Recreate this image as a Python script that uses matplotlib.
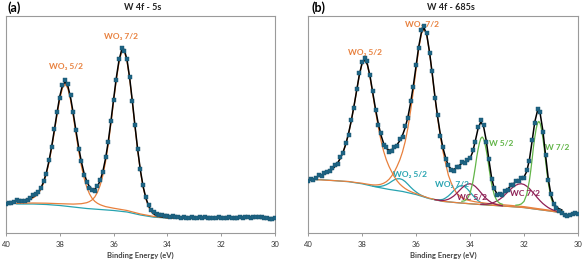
import numpy as np
import matplotlib
matplotlib.use("Agg")
import matplotlib.pyplot as plt

plt.rcParams['font.family'] = ['Lato', 'DejaVu Sans']


def span(a, b, step=0.1):
    # energy grid running from a down to b
    return list(np.round(np.arange(a, b - step / 2, -step), 2))


# ---------------- (a) W 4f - 5s ----------------
e_a = span(40.0, 30.0)
counts_a = [
    29.5, 30.3, 29.7, 31.0, 33.5, 32.5, 32.3, 31.8, 33.5, 35.5,
    38.0, 39.5, 41.5, 45.0, 52.5, 59.0, 73.5, 86.0, 104.0, 121.5,
    135.0, 148.0, 153.5, 149.5, 138.0, 121.0, 103.5, 84.0, 72.0, 58.0,
    51.0, 45.0, 43.0, 42.5, 47.0, 53.0, 61.0, 76.0, 91.0, 112.0,
    133.0, 153.0, 174.0, 185.0, 182.0, 174.5, 156.0, 132.0, 108.0, 84.0,
    64.0, 48.0, 36.0, 28.5, 23.0, 21.0, 19.0, 18.5, 18.0, 17.0,
    17.5, 16.5, 17.5, 16.0, 16.5, 15.5, 16.0, 15.0, 15.5, 16.0,
    15.0, 15.5, 16.0, 15.0, 16.5, 15.5, 15.0, 15.5, 15.0, 16.0,
    15.5, 15.0, 15.5, 16.0, 15.0, 15.5, 15.5, 16.0, 15.0, 16.5,
    16.0, 15.5, 16.5, 16.0, 16.0, 16.5, 15.5, 15.0, 14.0, 14.5,
    15.5]

fit_a_e = span(39.3, 35.7) + [35.65] + span(35.6, 34.0) + [33.5, 33.0, 32.0, 31.0, 30.2]
fit_a = [
    33.1, 33.9, 34.8, 36.0, 37.8, 40.6, 45.0, 51.5, 60.4, 72.3,
    87.0, 103.6, 120.9, 136.8, 147.8, 151.1, 146.9, 135.5, 119.8, 102.5,
    85.9, 71.6, 60.0, 51.8, 46.4, 43.7, 43.8, 46.7, 52.4, 61.5,
    74.4, 91.2, 111.7, 133.8, 155.1, 172.5, 183.2,
    184.6,
    183.1, 173.0, 154.6, 131.1, 106.1, 82.4, 62.1, 46.3, 35.0, 27.3,
    22.2, 19.2, 17.5, 16.6, 16.1, 15.8, 15.5,
    15.4, 15.3, 15.2, 15.1, 15.1]

wo3_52_a_e = [39.6, 39.4, 39.2, 39.1] + span(39.0, 36.3) + [36.0, 35.5, 35.0, 34.5, 34.0, 32.0, 30.2]
wo3_52_a = [
    31.3, 31.9, 33.0, 33.8,
    35.0, 36.7, 39.4, 43.7, 50.1, 58.9, 70.6, 85.0, 101.5, 118.6,
    134.1, 145.1, 148.9, 144.5, 132.9, 116.9, 99.3, 82.3, 67.4, 55.2,
    46.0, 39.3, 34.7, 31.7, 29.7, 28.3, 27.3, 26.4,
    24.8, 22.5, 19.0, 16.5, 15.4, 15.2, 15.1]

wo3_72_a_e = [39.6, 39.0, 38.5, 38.0, 37.5, 37.2] + span(37.0, 35.7) + [35.65] + span(35.6, 34.3) + [34.0, 32.0, 30.2]
wo3_72_a = [
    29.6, 30.0, 29.8, 29.3, 28.9, 29.3,
    30.3, 31.4, 33.1, 36.0, 40.7, 47.6, 57.5, 71.1, 88.3, 109.1,
    131.5, 153.0, 170.5, 181.5,
    183.0,
    181.5, 171.5, 153.3, 129.9, 105.0, 81.4, 61.1, 45.4, 34.1, 26.4,
    21.4, 18.4, 16.8, 15.9,
    15.1, 15.0, 15.0]

bg_a_e = [39.6, 39.0, 38.5, 38.0, 37.5, 37.0, 36.5, 36.0, 35.5, 35.0, 34.5, 34.0, 30.2]
bg_a = [29.0, 29.0, 28.5, 27.5, 26.0, 24.5, 23.5, 22.5, 21.0, 18.0, 15.8, 15.0, 15.0]

# ---------------- (b) W 4f - 685s ----------------
e_b = span(40.0, 30.0)
counts_b = [
    51.0, 52.5, 51.5, 54.0, 56.5, 55.5, 58.0, 59.5, 60.5, 63.5,
    66.0, 67.5, 74.5, 78.0, 88.0, 95.5, 110.5, 122.0, 140.0, 155.5,
    167.0, 171.0, 168.0, 154.0, 138.5, 120.0, 105.5, 97.0, 86.0, 83.5,
    79.0, 80.0, 84.0, 85.0, 91.5, 94.0, 104.0, 112.0, 128.5, 142.0,
    164.0, 180.0, 197.5, 202.0, 195.0, 175.0, 157.5, 132.0, 115.0, 95.0,
    84.0, 72.0, 66.5, 61.0, 60.5, 64.5, 64.5, 69.0, 68.0, 71.5,
    73.5, 80.5, 89.0, 103.5, 110.0, 105.5, 89.0, 72.5, 52.5, 44.0,
    37.0, 38.0, 37.0, 41.0, 42.0, 46.5, 47.0, 51.0, 50.5, 53.5,
    54.0, 61.0, 70.5, 90.5, 107.0, 120.5, 117.5, 98.5, 76.5, 51.5,
    38.0, 28.0, 24.5, 21.5, 19.5, 18.0, 17.0, 18.0, 18.5, 19.5,
    19.0]

fit_b_e = span(39.7, 30.6)
fit_b = [
    54.5, 55.3, 56.3, 57.3, 58.6, 60.2, 62.2, 64.9, 68.3, 73.0,
    78.9, 86.7, 96.8, 109.1, 123.3, 138.6, 154.1, 165.3, 169.0, 164.4,
    152.5, 136.6, 121.0, 107.1, 95.6, 87.4, 82.5, 80.7, 81.3, 82.9,
    86.1, 90.0, 95.3, 102.7, 113.0, 126.8, 143.4, 162.4, 181.6, 195.6,
    199.9, 193.2, 176.5, 155.7, 133.2, 113.5, 96.4, 82.7, 73.2, 65.3,
    62.5, 62.0, 63.3, 65.8, 67.9, 69.1, 70.0, 72.5, 79.0, 90.2,
    102.0, 108.3, 104.3, 90.3, 71.3, 53.9, 42.9, 38.2, 37.1, 38.1,
    40.0, 43.0, 45.6, 47.9, 49.9, 51.4, 52.7, 54.6, 59.9, 71.4,
    89.5, 108.4, 119.2, 116.2, 99.6, 75.5, 52.6, 37.1, 29.0, 25.4,
    23.6, 22.4]

bg_b_e = [39.7, 39.5, 39.0, 38.5, 38.0, 37.5, 37.0, 36.5, 36.0, 35.5,
          35.0, 34.5, 34.0, 33.5, 33.0, 32.5, 32.0, 31.5, 31.0, 30.6]
bg_b = [52.0, 52.0, 51.0, 50.0, 48.0, 45.0, 42.5, 40.5, 37.5, 33.5,
        30.8, 29.6, 28.5, 27.5, 26.7, 25.8, 24.8, 23.0, 21.3, 19.7]

wo3_52_b_e = span(39.7, 36.0) + [35.8, 35.6, 35.4, 35.2, 35.0, 34.5, 34.0, 33.0, 32.0, 31.0, 30.6]
wo3_52_b = [
    54.5, 55.3, 56.3, 57.3, 58.6, 60.2, 62.2, 64.9, 68.3, 73.0,
    78.8, 86.5, 96.6, 108.9, 123.0, 138.3, 153.7, 164.8, 168.4, 163.6,
    151.5, 135.1, 118.8, 103.8, 90.6, 79.8, 71.4, 64.9, 59.6, 54.7,
    50.8, 47.7, 45.3, 43.3, 41.7, 40.4, 39.3, 38.4,
    36.45, 34.65, 33.2, 32.0, 30.9, 29.6, 28.5, 26.7, 24.8, 21.3, 19.7]

wo3_72_b_e = [39.7, 39.0, 38.7, 38.5, 38.2, 38.0] + span(37.9, 34.0) + \
    [33.8, 33.6, 33.4, 33.2, 33.0, 32.5, 32.0, 31.5, 31.0, 30.6]
wo3_72_b = [
    52.0, 51.0, 50.5, 50.2, 49.1, 48.5,
    48.0, 47.6, 47.2, 46.9, 46.8, 47.0, 47.5, 48.5, 50.0, 52.3,
    55.6, 59.7, 65.1, 71.2, 79.0, 89.1, 102.4, 119.1, 138.1, 158.9,
    179.4, 194.2, 199.1, 192.6, 176.2, 155.2, 132.4, 112.3, 94.4, 79.2,
    67.5, 56.3, 49.1, 43.3, 39.1, 36.4, 34.5, 33.1, 32.2, 31.5,
    30.4, 29.65, 29.0, 28.5, 28.05, 26.9, 25.7, 23.8, 22.0, 20.3]

wo2_52_b_e = span(37.6, 35.6)
wo2_52_b = [45.8, 45.4, 45.3, 45.5, 46.1, 47.1, 48.5, 50.3, 51.9, 52.8,
            52.9, 52.0, 50.1, 47.5, 44.7, 42.2, 40.1, 38.2, 36.7, 35.5, 34.5]

wo2_72_b_e = span(35.4, 33.2)
wo2_72_b = [33.1, 32.6, 32.4, 32.4, 32.8, 34.2, 36.1, 38.6, 41.3, 43.9,
            45.7, 46.2, 45.2, 43.0, 40.0, 36.8, 33.9, 31.5, 29.7, 28.6,
            27.8, 27.4, 27.1]

wc_52_b_e = span(35.3, 32.8)
wc_52_b = [32.5, 32.1, 31.7, 31.7, 32.1, 32.9, 34.3, 36.1, 38.5, 41.2,
           43.9, 46.1, 47.6, 48.0, 47.2, 45.3, 42.6, 39.5, 36.4, 33.6,
           31.4, 29.6, 28.4, 27.6, 26.9, 26.5]

wc_72_b_e = span(33.6, 30.6)
wc_72_b = [28.0, 28.0, 28.1, 28.5, 29.0, 30.0, 31.3, 32.9, 34.9, 37.4,
           40.0, 42.5, 44.8, 46.6, 47.7, 48.0, 47.3, 45.6, 43.3, 40.4,
           37.4, 34.2, 31.3, 28.7, 26.6, 24.7, 23.3, 22.2, 21.3, 20.6, 20.0]

w_52_b_e = [34.3, 34.2, 34.1, 34.0] + span(33.9, 33.2, 0.05) + [33.1, 33.0, 32.9, 32.8]
w_52_b = [30.9, 31.4, 33.3, 38.5,
          49.0, 56.6, 64.9, 74.2, 81.6, 87.9, 92.2, 93.6, 92.0, 87.5,
          81.0, 73.5, 64.0, 55.5, 47.7,
          36.9, 31.3, 29.0, 28.0]

w_72_b_e = [32.3, 32.2, 32.1, 32.0, 31.9, 31.8] + span(31.75, 31.15, 0.05) + \
    [31.1, 31.0, 30.9, 30.8, 30.7, 30.6]
w_72_b = [27.1, 27.4, 28.3, 30.8, 37.4, 51.1,
          60.9, 71.7, 83.7, 93.4, 101.5, 107.0, 108.8, 106.7, 100.8, 92.3,
          82.4, 70.0, 58.8,
          48.6, 34.3, 26.9, 23.8, 22.3, 21.4]

ORANGE = '#E8803D'
TEAL = '#27A3B0'
MAROON = '#8E1F55'
GREEN = '#62B548'
MARK = '#1E6585'

fig = plt.figure(figsize=(5.84, 2.65), dpi=100)
ax_a = fig.add_axes([6 / 584, 32 / 265, 269 / 584, 217.5 / 265])
ax_b = fig.add_axes([308 / 584, 32 / 265, 270 / 584, 217.5 / 265])


def style(ax, top):
    ax.set_xlim(40, 30)
    ax.set_ylim(0, top)
    ax.set_xticks([40, 38, 36, 34, 32, 30])
    ax.set_yticks([])
    for s in ax.spines.values():
        s.set_color('#9a9a9a')
        s.set_linewidth(0.8)
    ax.tick_params(axis='x', direction='out', length=2.2, width=0.7, color='#999999',
                   labelsize=5.5, pad=3.5, labelcolor='#333333')
    ax.set_xlabel('Binding Energy (eV)', fontsize=5.5, fontweight='bold',
                  color='#444444', labelpad=3)


def label(ax, x, y, txt, color):
    ax.text(x, y, txt, transform=ax.get_xaxis_transform(), ha='center', va='center',
            fontsize=6, fontweight='bold', color=color)


# panel (a)
ax_a.plot(bg_a_e, bg_a, color=TEAL, lw=0.9, zorder=2)
ax_a.plot(wo3_52_a_e, wo3_52_a, color=ORANGE, lw=0.9, zorder=3)
ax_a.plot(wo3_72_a_e, wo3_72_a, color=ORANGE, lw=0.9, zorder=3)
ax_a.plot(fit_a_e, fit_a, color='black', lw=1.1, zorder=4)
ax_a.plot(e_a, counts_a, 's', ms=2.8, color=MARK, mec='#17506a', mew=0.3, zorder=5)
style(ax_a, 217.5)
label(ax_a, 37.77, 167 / 217.5, 'WO₃ 5/2', ORANGE)
label(ax_a, 35.71, 197 / 217.5, 'WO₃ 7/2', ORANGE)

# panel (b)
ax_b.plot(bg_b_e, bg_b, color=TEAL, lw=0.9, zorder=2)
ax_b.plot(wo2_52_b_e, wo2_52_b, color=TEAL, lw=0.9, zorder=2)
ax_b.plot(wo2_72_b_e, wo2_72_b, color=TEAL, lw=0.9, zorder=2)
ax_b.plot(wo3_52_b_e, wo3_52_b, color=ORANGE, lw=0.9, zorder=2.5)
ax_b.plot(wo3_72_b_e, wo3_72_b, color=ORANGE, lw=0.9, zorder=2.5)
ax_b.plot(wc_52_b_e, wc_52_b, color=MAROON, lw=0.9, zorder=3)
ax_b.plot(wc_72_b_e, wc_72_b, color=MAROON, lw=0.9, zorder=3)
ax_b.plot(w_52_b_e, w_52_b, color=GREEN, lw=0.9, zorder=3)
ax_b.plot(w_72_b_e, w_72_b, color=GREEN, lw=0.9, zorder=3)
ax_b.plot(fit_b_e, fit_b, color='black', lw=1.1, zorder=4)
ax_b.plot(e_b, counts_b, 's', ms=2.8, color=MARK, mec='#17506a', mew=0.3, zorder=5)
style(ax_b, 212)
label(ax_b, 37.89, 180 / 217.5, 'WO₃ 5/2', ORANGE)
label(ax_b, 35.78, 208 / 217.5, 'WO₃ 7/2', ORANGE)
label(ax_b, 36.22, 59 / 217.5, 'WO₂ 5/2', TEAL)
label(ax_b, 34.67, 49 / 217.5, 'WO₂ 7/2', TEAL)
label(ax_b, 33.91, 36 / 217.5, 'WC 5/2', MAROON)
label(ax_b, 31.98, 39 / 217.5, 'WC 7/2', MAROON)
label(ax_b, 32.85, 89 / 217.5, 'W 5/2', GREEN)
label(ax_b, 30.76, 85 / 217.5, 'W 7/2', GREEN)

fig.text(14 / 584, 1 - 8 / 265, '(a)', ha='center', va='center', fontsize=9, fontweight='bold')
fig.text(319 / 584, 1 - 8 / 265, '(b)', ha='center', va='center', fontsize=9, fontweight='bold')
fig.text(142.5 / 584, 1 - 8 / 265, 'W 4f - 5s', ha='center', va='center', fontsize=6.5,
         fontweight='bold', color='#222222')
fig.text(451 / 584, 1 - 8 / 265, 'W 4f - 685s', ha='center', va='center', fontsize=6.5,
         fontweight='bold', color='#222222')

fig.savefig('out.png', dpi=100)
